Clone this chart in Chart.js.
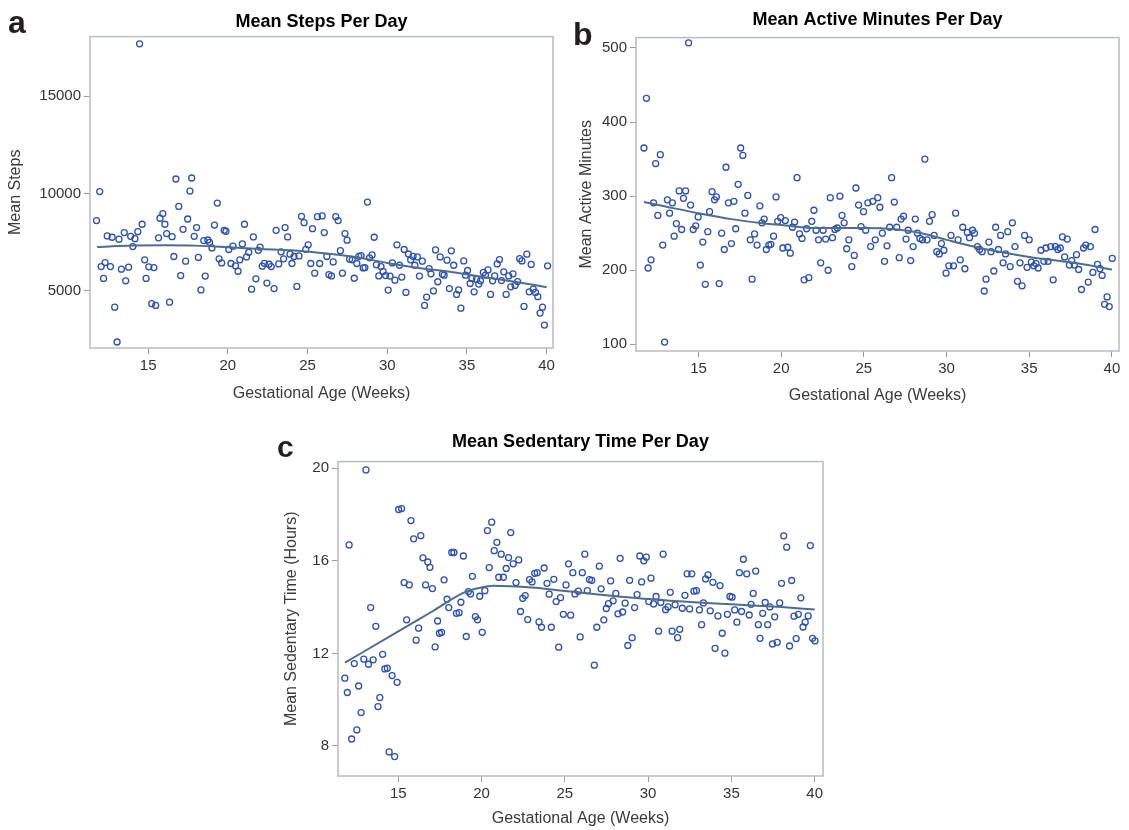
<!DOCTYPE html>
<html>
<head>
<meta charset="utf-8">
<script src="https://cdn.jsdelivr.net/npm/chart.js@4.4.1/dist/chart.umd.min.js"></script>
<style>
  body { margin: 0; background: #fff; width: 1129px; height: 830px; position: relative; overflow: hidden; }
  .panel { position: absolute; }
  .tag { position: absolute; font: bold 32px "Liberation Sans", Arial, sans-serif; color: #231f20; line-height: 1; }
</style>
</head>
<body>
<div class="panel" style="left:0;top:0;width:565px;height:410px"><canvas id="chartA"></canvas></div>
<div class="panel" style="left:570px;top:0;width:559px;height:410px"><canvas id="chartB"></canvas></div>
<div class="panel" style="left:270px;top:420px;width:565px;height:410px"><canvas id="chartC"></canvas></div>
<div class="tag" style="left:8px;top:6px">a</div>
<div class="tag" style="left:573px;top:18px">b</div>
<div class="tag" style="left:277px;top:432px;font-size:30px">c</div>
<script>
// x axis is gestational age for all three panels
var xTicks = [15, 20, 25, 30, 35, 40];

// a: mean steps
var stepsWeeks = [
  11.76, 11.96, 12.05, 12.2, 12.3, 12.43, 12.63, 12.74, 12.9, 13.05,
  13.17, 13.32, 13.5, 13.59, 13.77, 13.9, 14.04, 14.17, 14.35, 14.46,
  14.62, 14.78, 14.87, 15.04, 15.22, 15.36, 15.47, 15.65, 15.74, 15.92,
  16.05, 16.16, 16.34, 16.5, 16.61, 16.74, 16.92, 17.04, 17.19, 17.35,
  17.48, 17.62, 17.73, 17.89, 18.04, 18.15, 18.31, 18.49, 18.58, 18.74,
  18.85, 19.0, 19.16, 19.34, 19.45, 19.61, 19.77, 19.88, 20.06, 20.19,
  20.32, 20.48, 20.64, 20.75, 20.91, 21.04, 21.17, 21.31, 21.49, 21.6,
  21.76, 21.91, 22.02, 22.16, 22.29, 22.45, 22.58, 22.72, 22.9, 23.03,
  23.19, 23.34, 23.5, 23.59, 23.75, 23.9, 24.02, 24.15, 24.33, 24.46,
  24.62, 24.78, 24.89, 25.04, 25.2, 25.31, 25.45, 25.62, 25.76, 25.92,
  26.05, 26.21, 26.34, 26.5, 26.61, 26.77, 26.92, 27.06, 27.19, 27.35,
  27.48, 27.64, 27.8, 27.93, 28.09, 28.22, 28.36, 28.49, 28.6, 28.76,
  28.89, 29.05, 29.18, 29.32, 29.47, 29.61, 29.74, 29.9, 30.06, 30.17,
  30.32, 30.48, 30.61, 30.77, 30.91, 31.06, 31.17, 31.33, 31.47, 31.62,
  31.73, 31.89, 32.02, 32.2, 32.34, 32.47, 32.63, 32.74, 32.9, 33.03,
  33.17, 33.32, 33.46, 33.57, 33.75, 33.9, 34.02, 34.17, 34.35, 34.48,
  34.62, 34.8, 34.91, 35.04, 35.2, 35.31, 35.45, 35.6, 35.74, 35.85,
  36.03, 36.16, 36.32, 36.48, 36.61, 36.74, 36.9, 37.04, 37.17, 37.31,
  37.46, 37.62, 37.75, 37.89, 38.02, 38.18, 38.31, 38.45, 38.58, 38.76,
  38.91, 39.03, 39.16, 39.3, 39.45, 39.59, 39.74, 39.86, 40.06
];
var stepsMean = [
  8600, 10090, 6230, 5620, 6440, 7810, 6230, 7740, 4140, 2350,
  7640, 6100, 7980, 5500, 6200, 7790, 7260, 7670, 8030, 17700,
  8410, 6580, 5620, 6220, 4320, 6180, 4230, 7710, 8720, 8960,
  8410, 7930, 4400, 7770, 6750, 10740, 9330, 5770, 8150, 6510,
  8680, 10120, 10790, 7790, 8240, 6700, 5030, 7570, 5740, 7600,
  7480, 7190, 8370, 9500, 6630, 6420, 8100, 8050, 7110, 6390,
  7280, 6270, 5990, 6580, 7400, 8410, 6730, 6970, 5070, 7760,
  5600, 7070, 7230, 6250, 6400, 5380, 6350, 6230, 5100, 8100,
  6370, 6990, 6630, 8240, 7760, 6870, 6390, 6750, 5210, 6780,
  8820, 8490, 7120, 7350, 6390, 8180, 5890, 8800, 6390, 8840,
  7980, 6750, 5820, 5750, 6470, 8800, 8600, 7050, 5890, 7930,
  7590, 6610, 6580, 5630, 6390, 6760, 6800, 6160, 6180, 9550,
  6680, 6830, 7740, 6320, 5750, 6230, 5980, 5770, 5020, 5740,
  6420, 5530, 7350, 6300, 5690, 7110, 4900, 6880, 6580, 6760,
  6300, 6730, 5740, 6510, 4230, 4660, 6130, 5860, 4980, 7090,
  5450, 6730, 5840, 5790, 6560, 5100, 7040, 6300, 4800, 5030,
  4090, 6520, 5790, 6030, 5360, 5620, 4930, 5570, 5330, 5500,
  5930, 5790, 6060, 4800, 5500, 5750, 6370, 6590, 5510, 5960,
  4800, 5750, 5190, 5860, 5260, 5460, 6640, 6520, 4180, 6870,
  4930, 6340, 5070, 4900, 4680, 3840, 4140, 3220, 6270
];
var stepsFitWeeks = [11.8, 14, 16, 18, 20, 22, 24, 26, 28, 30, 32, 34, 36, 38, 40];
var stepsFit = [7240, 7310, 7330, 7310, 7230, 7140, 7070, 6920, 6720, 6420, 6160, 5950, 5700, 5450, 5170];
var stepsTicks = [5000, 10000, 15000];

// b: mean active minutes
var activeWeeks = [
  11.7, 11.85, 11.95, 12.13, 12.28, 12.41, 12.54, 12.69, 12.84, 12.95,
  13.12, 13.25, 13.42, 13.53, 13.66, 13.83, 13.98, 14.09, 14.22, 14.4,
  14.52, 14.68, 14.83, 14.98, 15.11, 15.26, 15.41, 15.56, 15.67, 15.82,
  15.97, 16.08, 16.25, 16.4, 16.56, 16.66, 16.81, 16.99, 17.14, 17.25,
  17.4, 17.55, 17.68, 17.81, 17.98, 18.13, 18.24, 18.39, 18.54, 18.71,
  18.84, 18.97, 19.1, 19.25, 19.38, 19.54, 19.69, 19.79, 19.97, 20.1,
  20.25, 20.4, 20.55, 20.68, 20.81, 20.96, 21.11, 21.26, 21.39, 21.54,
  21.67, 21.85, 21.98, 22.11, 22.26, 22.39, 22.54, 22.69, 22.84, 22.97,
  23.1, 23.25, 23.4, 23.55, 23.68, 23.81, 23.96, 24.09, 24.27, 24.42,
  24.52, 24.68, 24.83, 24.98, 25.11, 25.24, 25.41, 25.54, 25.69, 25.84,
  25.97, 26.12, 26.25, 26.4, 26.56, 26.68, 26.84, 26.99, 27.14, 27.25,
  27.4, 27.55, 27.68, 27.83, 27.98, 28.11, 28.24, 28.39, 28.54, 28.69,
  28.82, 28.97, 29.13, 29.25, 29.41, 29.56, 29.69, 29.84, 29.97, 30.14,
  30.27, 30.42, 30.55, 30.7, 30.83, 30.98, 31.11, 31.26, 31.39, 31.57,
  31.69, 31.87, 32.0, 32.15, 32.28, 32.39, 32.56, 32.69, 32.86, 32.97,
  33.14, 33.27, 33.42, 33.57, 33.7, 33.85, 33.98, 34.14, 34.29, 34.44,
  34.57, 34.72, 34.87, 35.0, 35.13, 35.28, 35.41, 35.54, 35.71, 35.89,
  36.01, 36.14, 36.3, 36.45, 36.58, 36.73, 36.88, 37.01, 37.14, 37.3,
  37.43, 37.57, 37.73, 37.86, 37.99, 38.16, 38.29, 38.42, 38.57, 38.7,
  38.85, 38.98, 39.13, 39.28, 39.41, 39.56, 39.71, 39.84, 40.02
];
var activeMean = [
  365, 432, 203, 214, 291, 344, 274, 356, 234, 103,
  295, 277, 291, 246, 263, 307, 255, 297, 307, 507,
  288, 255, 260, 272, 207, 238, 181, 252, 279, 306,
  295, 299, 182, 250, 228, 339, 291, 236, 293, 256,
  316, 365, 355, 277, 301, 241, 188, 249, 234, 287,
  264, 269, 228, 234, 235, 246, 299, 266, 271, 230,
  267, 231, 223, 258, 265, 325, 249, 243, 187, 256,
  190, 266, 281, 254, 241, 210, 254, 242, 200, 298,
  244, 255, 257, 300, 274, 264, 229, 241, 205, 220,
  311, 288, 259, 279, 254, 291, 232, 293, 241, 298,
  285, 250, 212, 233, 258, 325, 292, 258, 217, 269,
  273, 242, 254, 213, 232, 269, 250, 243, 241, 350,
  241, 266, 275, 247, 225, 222, 236, 227, 196, 206,
  247, 206, 277, 241, 214, 258, 202, 251, 244, 254,
  250, 232, 228, 225, 172, 188, 238, 225, 199, 258,
  228, 247, 210, 222, 252, 205, 264, 232, 185, 210,
  179, 247, 204, 241, 211, 206, 209, 203, 227, 212,
  230, 212, 232, 187, 232, 228, 230, 245, 218, 242,
  207, 213, 207, 221, 201, 174, 230, 234, 184, 232,
  197, 255, 208, 202, 193, 154, 164, 151, 216
];
var activeFitWeeks = [11.7, 13, 15, 17, 19, 20, 22, 25, 27, 28.5, 30, 32, 35, 38, 40];
var activeFit = [292, 286, 277, 269, 263, 261, 257, 257, 255, 250, 241, 230, 218, 209, 201];
var activeTicks = [100, 200, 300, 400, 500];

// c: mean sedentary hours
var sedentaryWeeks = [
  11.79, 11.94, 12.05, 12.2, 12.36, 12.51, 12.62, 12.77, 12.93, 13.06,
  13.21, 13.34, 13.49, 13.65, 13.78, 13.89, 14.06, 14.19, 14.34, 14.45,
  14.63, 14.78, 14.93, 15.02, 15.2, 15.35, 15.5, 15.66, 15.76, 15.92,
  16.07, 16.22, 16.35, 16.48, 16.64, 16.77, 16.9, 17.05, 17.21, 17.36,
  17.47, 17.6, 17.75, 17.93, 18.03, 18.21, 18.34, 18.49, 18.65, 18.76,
  18.91, 19.08, 19.21, 19.34, 19.45, 19.63, 19.76, 19.89, 20.04, 20.2,
  20.35, 20.46, 20.61, 20.76, 20.92, 21.03, 21.18, 21.31, 21.48, 21.62,
  21.75, 21.9, 22.07, 22.23, 22.34, 22.47, 22.62, 22.77, 22.88, 23.03,
  23.19, 23.34, 23.45, 23.6, 23.76, 23.93, 24.06, 24.19, 24.34, 24.48,
  24.63, 24.74, 24.91, 25.07, 25.22, 25.35, 25.48, 25.61, 25.81, 25.92,
  26.05, 26.2, 26.35, 26.48, 26.62, 26.77, 26.92, 27.07, 27.18, 27.34,
  27.49, 27.62, 27.75, 27.9, 28.06, 28.19, 28.32, 28.47, 28.62, 28.78,
  28.89, 29.04, 29.19, 29.34, 29.5, 29.61, 29.74, 29.89, 30.04, 30.17,
  30.33, 30.48, 30.63, 30.76, 30.9, 31.05, 31.2, 31.33, 31.44, 31.62,
  31.77, 31.9, 32.05, 32.21, 32.34, 32.49, 32.62, 32.75, 32.9, 33.08,
  33.21, 33.32, 33.45, 33.6, 33.73, 33.89, 34.02, 34.19, 34.32, 34.45,
  34.61, 34.76, 34.91, 35.04, 35.2, 35.33, 35.48, 35.61, 35.72, 35.92,
  36.07, 36.18, 36.31, 36.46, 36.62, 36.72, 36.88, 37.03, 37.18, 37.31,
  37.47, 37.6, 37.75, 37.9, 38.01, 38.14, 38.32, 38.49, 38.62, 38.76,
  38.89, 39.02, 39.17, 39.3, 39.43, 39.61, 39.74, 39.87, 40.02
];
var sedentaryMean = [
  10.93, 10.31, 16.69, 8.30, 11.56, 8.69, 10.59, 9.44, 11.75, 19.93,
  11.53, 13.98, 11.72, 13.17, 9.70, 10.09, 11.96, 11.33, 11.36, 7.74,
  11.04, 7.54, 10.75, 18.22, 18.26, 15.06, 13.45, 14.96, 17.74, 16.95,
  12.57, 13.09, 17.09, 16.13, 14.96, 15.95, 15.72, 14.80, 12.28, 13.40,
  12.87, 12.91, 15.18, 14.34, 13.98, 16.36, 16.36, 13.73, 13.76, 14.21,
  16.21, 12.73, 14.67, 14.57, 15.33, 13.59, 13.45, 14.47, 12.91, 14.71,
  17.31, 15.71, 17.67, 16.44, 16.80, 15.29, 16.29, 15.29, 15.67, 16.14,
  17.22, 15.87, 15.06, 16.04, 13.81, 14.38, 14.50, 13.46, 15.19, 15.09,
  15.46, 15.49, 13.36, 13.13, 15.69, 15.03, 14.56, 13.13, 15.20, 14.24,
  12.27, 14.41, 13.69, 14.96, 15.87, 13.65, 15.49, 14.57, 14.69, 12.71,
  15.49, 16.29, 14.71, 15.19, 15.16, 11.49, 13.13, 15.77, 14.79, 13.45,
  13.94, 14.15, 15.13, 14.27, 14.59, 13.71, 16.11, 13.79, 14.17, 12.34,
  15.16, 12.68, 13.98, 14.54, 16.21, 15.09, 16.00, 16.16, 14.24, 15.25,
  14.14, 14.46, 12.96, 14.20, 16.29, 13.89, 14.01, 14.64, 12.96, 14.10,
  12.68, 13.04, 13.95, 14.51, 15.44, 13.92, 15.44, 14.69, 14.71, 13.88,
  13.24, 14.18, 15.22, 15.39, 13.84, 15.07, 12.22, 13.62, 14.93, 12.87,
  12.01, 13.69, 14.46, 14.43, 13.88, 13.35, 15.49, 13.81, 16.07, 15.44,
  13.66, 14.12, 14.59, 15.56, 13.24, 12.65, 13.73, 14.20, 13.24, 14.01,
  12.41, 13.58, 12.48, 14.18, 15.03, 17.08, 16.59, 12.32, 15.15, 13.61,
  12.64, 13.69, 14.40, 13.14, 13.35, 13.62, 16.66, 12.65, 12.54
];
var sedentaryFitWeeks = [11.8, 15, 17, 19, 20, 20.7, 23, 25, 27, 30, 33, 35, 38, 40];
var sedentaryFit = [11.6, 12.95, 13.8, 14.65, 14.85, 14.92, 14.85, 14.7, 14.55, 14.35, 14.2, 14.12, 14.0, 13.9];
var sedentaryTicks = [8, 12, 16, 20];

var family = "'Liberation Sans', Arial, Helvetica, sans-serif";
var markerColor = 'rgb(45, 80, 175)';
var lineColor = 'rgb(78, 108, 140)';

// outline of the whole plot area (SAS style box)
var framePlugin = {
  id: 'frame',
  beforeDatasetsDraw: function (chart) {
    var a = chart.chartArea;
    var ctx = chart.ctx;
    ctx.save();
    ctx.strokeStyle = '#b7bcc2';
    ctx.lineWidth = 1.5;
    ctx.strokeRect(a.left, a.top, a.right - a.left, a.bottom - a.top);
    ctx.restore();
  }
};

function makeChart(id, c) {
  var points = c.weeks.map(function (w, i) { return { x: w, y: c.values[i] }; });
  var fit = c.fitWeeks.map(function (w, i) { return { x: w, y: c.fitValues[i] }; });
  var tickGrid = { drawOnChartArea: false, drawTicks: true, tickLength: 6, color: '#9a9a9a', lineWidth: 1 };

  return new Chart(document.getElementById(id), {
    type: 'scatter',
    data: {
      datasets: [
        {
          type: 'line',
          data: fit,
          borderColor: lineColor,
          borderWidth: 2,
          pointRadius: 0,
          fill: false,
          cubicInterpolationMode: 'monotone',
          order: 0
        },
        {
          data: points,
          borderColor: markerColor,
          backgroundColor: 'rgba(0,0,0,0)',
          pointRadius: 3,
          pointBorderWidth: 1.3,
          order: 1
        }
      ]
    },
    options: {
      responsive: true,
      maintainAspectRatio: false,
      animation: false,
      layout: { padding: { right: c.padRight } },
      plugins: {
        legend: { display: false },
        tooltip: { enabled: false },
        title: {
          display: true,
          text: c.title,
          fullSize: false,
          color: '#000',
          font: { family: family, size: 18, weight: 'bold' },
          padding: { top: c.titleTop, bottom: c.titleBottom }
        }
      },
      scales: {
        x: {
          type: 'linear',
          min: c.xMin,
          max: c.xMax,
          afterBuildTicks: function (s) { s.ticks = xTicks.map(function (v) { return { value: v }; }); },
          afterFit: function (s) { s.height = c.xHeight; },
          ticks: { autoSkip: false, maxRotation: 0, padding: 3, color: '#333', font: { family: family, size: 15 } },
          grid: tickGrid,
          border: { display: false },
          title: {
            display: true,
            text: 'Gestational Age (Weeks)',
            color: '#3a3a3a',
            font: { family: family, size: 16 },
            padding: { top: 0, bottom: c.xTitlePad }
          }
        },
        y: {
          min: c.yMin,
          max: c.yMax,
          afterBuildTicks: function (s) { s.ticks = c.yTicks.map(function (v) { return { value: v }; }); },
          afterFit: function (s) { s.width = c.yWidth; },
          ticks: {
            autoSkip: false, padding: 3, color: '#333', font: { family: family, size: 15 },
            callback: function (v) { return String(v); }
          },
          grid: tickGrid,
          border: { display: false },
          title: {
            display: true,
            text: c.yTitle,
            color: '#3a3a3a',
            font: { family: family, size: 16 },
            padding: { top: c.yTitlePad, bottom: 0 }
          }
        }
      }
    },
    plugins: [framePlugin]
  });
}

makeChart('chartA', {
  title: 'Mean Steps Per Day', yTitle: 'Mean Steps',
  weeks: stepsWeeks, values: stepsMean, fitWeeks: stepsFitWeeks, fitValues: stepsFit,
  yTicks: stepsTicks, xMin: 11.35, xMax: 40.4, yMin: 2040, yMax: 18070,
  yWidth: 90, xHeight: 62, padRight: 12, titleTop: 11, titleBottom: 4, xTitlePad: 7, yTitlePad: 6
});

makeChart('chartB', {
  title: 'Mean Active Minutes Per Day', yTitle: 'Mean Active Minutes',
  weeks: activeWeeks, values: activeMean, fitWeeks: activeFitWeeks, fitValues: activeFit,
  yTicks: activeTicks, xMin: 11.22, xMax: 40.43, yMin: 91, yMax: 514,
  yWidth: 66, xHeight: 59, padRight: 10, titleTop: 9, titleBottom: 7, xTitlePad: 5, yTitlePad: 7
});

makeChart('chartC', {
  title: 'Mean Sedentary Time Per Day', yTitle: 'Mean Sedentary Time (Hours)',
  weeks: sedentaryWeeks, values: sedentaryMean, fitWeeks: sedentaryFitWeeks, fitValues: sedentaryFit,
  yTicks: sedentaryTicks, xMin: 11.38, xMax: 40.5, yMin: 6.7, yMax: 20.29,
  yWidth: 68, xHeight: 54, padRight: 12, titleTop: 11, titleBottom: 9, xTitlePad: 2, yTitlePad: 12
});
</script>
</body>
</html>
